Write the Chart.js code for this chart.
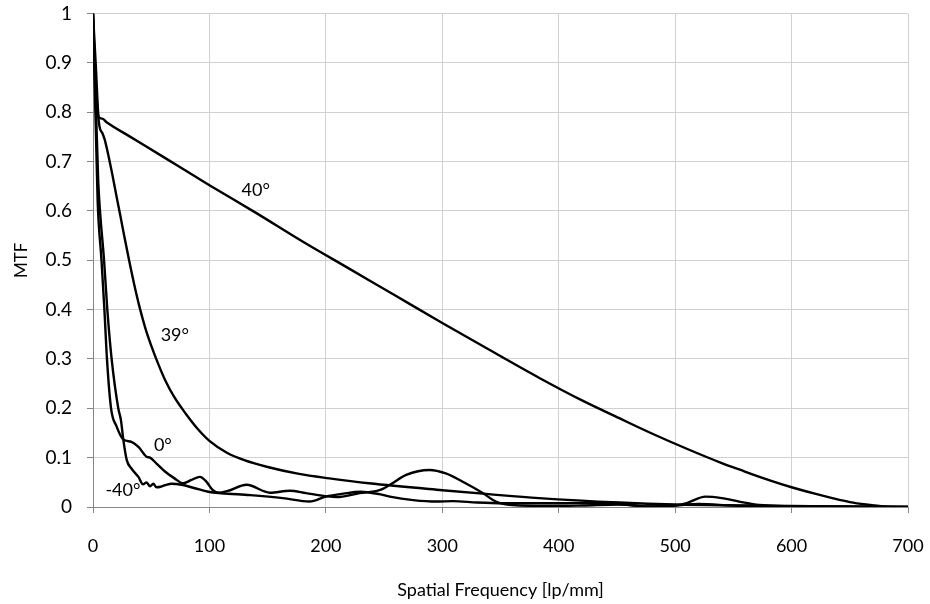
<!DOCTYPE html>
<html>
<head>
<meta charset="utf-8">
<script src="https://cdn.jsdelivr.net/npm/chart.js@4.4.1/dist/chart.umd.min.js"></script>
<style>
    html, body { margin: 0; padding: 0; background: #fff; }
    #wrap { width: 930px; height: 604px; }
</style>
</head>
<body>
<div id="wrap"><canvas id="mtfChart" width="930" height="604"></canvas></div>
<script>
// MTF curves (frequency in lp/mm, MTF 0..1)
const freq40 = [0, 2.5, 5, 8, 12, 30, 60, 100, 140, 180, 220, 260, 300, 340, 383, 420, 452, 480, 511, 540, 555, 580, 600, 620, 635, 650, 664, 680, 700];
const mtf40  = [1, 0.89, 0.79, 0.787, 0.779, 0.753, 0.71, 0.652, 0.596, 0.538, 0.483, 0.428, 0.373, 0.319, 0.262, 0.216, 0.18, 0.149, 0.117, 0.089, 0.076, 0.055, 0.04, 0.027, 0.018, 0.01, 0.005, 0.001, 0];

const freq39 = [0, 2, 5.5, 8, 10, 13, 16.5, 20, 23.5, 27, 31, 35.5, 40, 45, 50, 56, 62, 70, 80, 90, 100, 115, 130, 150, 177, 203, 237, 300, 340, 383, 452, 500, 560, 620, 700];
const mtf39  = [1, 0.87, 0.772, 0.758, 0.745, 0.715, 0.675, 0.632, 0.59, 0.547, 0.5, 0.45, 0.405, 0.362, 0.327, 0.29, 0.257, 0.222, 0.188, 0.158, 0.134, 0.11, 0.095, 0.081, 0.067, 0.058, 0.048, 0.034, 0.026, 0.018, 0.009, 0.005, 0.003, 0.001, 0];

const freq0 = [0, 4, 7.3, 9.8, 12, 15.5, 20.3, 26, 33, 39, 46, 49, 54.6, 61.8, 70, 77.4, 84.6, 91.8, 97.5, 103, 108, 115, 132, 152, 169, 183, 200, 209, 229, 246, 255, 269, 289, 303, 320, 335, 346, 360, 392, 420, 452, 478, 500, 520, 550, 600, 700];
const mtf0  = [1, 0.62, 0.5, 0.4, 0.3, 0.2, 0.163, 0.137, 0.132, 0.122, 0.102, 0.1, 0.088, 0.072, 0.058, 0.048, 0.055, 0.061, 0.051, 0.034, 0.029, 0.032, 0.045, 0.029, 0.033, 0.028, 0.022, 0.02, 0.028, 0.034, 0.045, 0.065, 0.075, 0.068, 0.048, 0.028, 0.011, 0.004, 0.002, 0.003, 0.005, 0.001, 0.003, 0.006, 0.003, 0.001, 0];

const freqM40 = [0, 2, 4.5, 6, 9.5, 12.3, 16, 21.7, 24, 26, 29, 33, 39, 43, 46, 49, 51.8, 54.6, 58, 63, 67.4, 76, 87.5, 99, 110, 135, 163, 186, 200, 215, 230, 246, 255, 275, 295, 309, 330, 352, 392, 420, 452, 478, 500, 510, 526, 540, 555, 572, 600, 650, 700];
const mtfM40  = [1, 0.85, 0.66, 0.6, 0.5, 0.4, 0.3, 0.2, 0.176, 0.137, 0.095, 0.078, 0.061, 0.046, 0.05, 0.042, 0.047, 0.04, 0.041, 0.045, 0.047, 0.045, 0.038, 0.031, 0.028, 0.024, 0.018, 0.011, 0.021, 0.027, 0.031, 0.026, 0.021, 0.014, 0.011, 0.012, 0.009, 0.0075, 0.0075, 0.008, 0.006, 0.001, 0.003, 0.008, 0.021, 0.018, 0.011, 0.004, 0.002, 0.001, 0];

// curve annotations
const labelText = ['40°', '39°', '0°', '-40°'];
const labelFreq = [139.8, 70.3, 60, 25.7];
const labelMtf  = [0.642, 0.349, 0.126, 0.034];

const xTicks = [0, 100, 200, 300, 400, 500, 600, 700];
const yTicks = [0, 0.1, 0.2, 0.3, 0.4, 0.5, 0.6, 0.7, 0.8, 0.9, 1];

const FONT = 'Lato, "Open Sans", sans-serif';

function toPoints(xs, ys) {
    return xs.map((v, i) => ({ x: v, y: ys[i] }));
}

function lineSet(label, xs, ys) {
    return {
        label: label,
        data: toPoints(xs, ys),
        borderColor: '#000',
        borderWidth: 2.4,
        pointRadius: 0,
        fill: false,
        cubicInterpolationMode: 'monotone'
    };
}

const curveLabels = {
    id: 'curveLabels',
    afterDatasetsDraw(chart) {
        const { ctx, scales: { x, y } } = chart;
        ctx.save();
        ctx.font = '18px ' + FONT;
        ctx.fillStyle = '#000';
        ctx.textAlign = 'center';
        ctx.textBaseline = 'middle';
        labelText.forEach((t, i) => {
            ctx.fillText(t, x.getPixelForValue(labelFreq[i]), y.getPixelForValue(labelMtf[i]));
        });
        ctx.restore();
    }
};

const ctx = document.getElementById('mtfChart').getContext('2d');
new Chart(ctx, {
    type: 'line',
    data: {
        datasets: [
            lineSet('40°', freq40, mtf40),
            lineSet('39°', freq39, mtf39),
            lineSet('0°', freq0, mtf0),
            lineSet('-40°', freqM40, mtfM40)
        ]
    },
    options: {
        responsive: false,
        animation: false,
        devicePixelRatio: 1,
        layout: { padding: { top: 13.5, right: 22, bottom: 0, left: 0 } },
        plugins: {
            legend: { display: false },
            tooltip: { enabled: false }
        },
        scales: {
            x: {
                type: 'linear',
                min: 0,
                max: 700,
                afterBuildTicks: (s) => { s.ticks = xTicks.map(v => ({ value: v })); },
                afterFit: (s) => { s.height = 97; s.paddingLeft = 0; s.paddingRight = 0; },
                ticks: { color: '#000', font: { family: FONT, size: 18 }, padding: 22, maxRotation: 0 },
                grid: { color: '#d0d0d0', tickColor: '#868686', tickLength: 6 },
                border: { color: '#868686' },
                title: {
                    display: true,
                    text: 'Spatial Frequency [lp/mm]',
                    color: '#000',
                    font: { family: FONT, size: 18 },
                    padding: { top: 0, bottom: 3 }
                }
            },
            y: {
                type: 'linear',
                min: 0,
                max: 1,
                afterBuildTicks: (s) => { s.ticks = yTicks.map(v => ({ value: v })); },
                afterFit: (s) => { s.width = 93; s.paddingTop = 0; s.paddingBottom = 0; },
                ticks: {
                    color: '#000',
                    font: { family: FONT, size: 19 },
                    padding: 15,
                    callback: (v) => String(Number(v.toFixed(1)))
                },
                grid: { color: '#d0d0d0', tickColor: '#868686', tickLength: 6 },
                border: { color: '#868686' },
                title: {
                    display: true,
                    text: 'MTF',
                    color: '#000',
                    font: { family: FONT, size: 17 },
                    padding: { top: 11, bottom: 0 }
                }
            }
        }
    },
    plugins: [curveLabels]
});
</script>
</body>
</html>
